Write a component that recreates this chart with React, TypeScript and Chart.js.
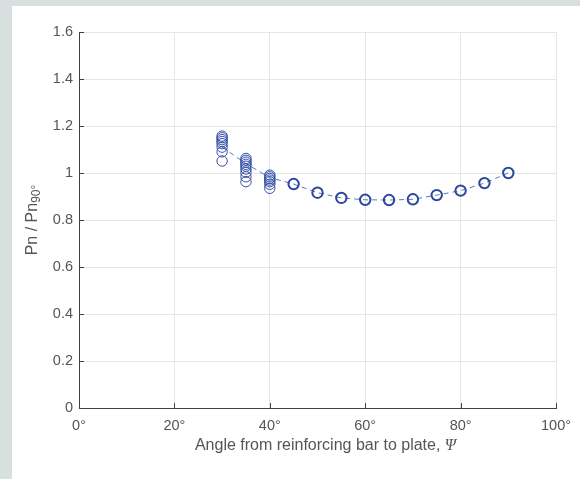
import { useEffect, useRef } from 'react';
import { Chart, registerables } from 'chart.js';

Chart.register(...registerables);

// ---- data ----
const xTickValues = [0, 20, 40, 60, 80, 100];
const yTickValues = [0, 0.2, 0.4, 0.6, 0.8, 1, 1.2, 1.4, 1.6];

const cluster30 = [1.157, 1.150, 1.142, 1.134, 1.125, 1.11, 1.09, 1.051];
const cluster35 = [1.062, 1.054, 1.046, 1.037, 1.029, 1.017, 1.003, 0.984, 0.963];
const cluster40 = [0.991, 0.984, 0.977, 0.970, 0.963, 0.952, 0.935];

const singleAngles = [45, 50, 55, 60, 65, 70, 75, 80, 85, 90];
const singleValues = [0.953, 0.916, 0.894, 0.886, 0.885, 0.888, 0.906, 0.925, 0.957, 1.0];

const trendAngles = [30, 35, 40, 45, 50, 55, 60, 65, 70, 75, 80, 85, 90];
const trendValues = [1.11, 1.04, 0.98, 0.953, 0.916, 0.894, 0.886, 0.885, 0.888, 0.906, 0.925, 0.957, 1.0];

const xTitleMain = 'Angle from reinforcing bar to plate, ';
const xTitleSymbol = 'Ψ';
const yTitleMain = 'Pn / Pn';
const yTitleSub = '90°';

const TEXT = '#555555';
const AXIS = '#404040';
const GRID = '#e6e6e6';
const FONT = '"Liberation Sans", Arial, sans-serif';

const decorPlugin = {
  id: 'decor',
  afterDraw(chart: any) {
    const { ctx, chartArea, scales } = chart;
    const { left, right, bottom } = chartArea;
    const x = scales.x;
    const y = scales.y;
    ctx.save();
    // inward tick marks
    ctx.strokeStyle = AXIS;
    ctx.lineWidth = 1;
    ctx.beginPath();
    xTickValues.forEach((v) => {
      const px = Math.round(x.getPixelForValue(v)) + 0.5;
      ctx.moveTo(px, bottom);
      ctx.lineTo(px, bottom - 5);
    });
    yTickValues.forEach((v) => {
      const py = Math.round(y.getPixelForValue(v)) + 0.5;
      ctx.moveTo(left, py);
      ctx.lineTo(left + 5, py);
    });
    ctx.stroke();

    // x title
    ctx.fillStyle = TEXT;
    ctx.textBaseline = 'alphabetic';
    ctx.textAlign = 'left';
    const mainFont = `16px ${FONT}`;
    const symFont = `italic 16px "Liberation Serif", serif`;
    ctx.font = mainFont;
    const w1 = ctx.measureText(xTitleMain).width;
    ctx.font = symFont;
    const w2 = ctx.measureText(xTitleSymbol).width;
    const cx = (left + right) / 2 + 8;
    const sx = cx - (w1 + w2) / 2;
    const by = bottom + 42;
    ctx.font = mainFont;
    ctx.fillText(xTitleMain, sx, by);
    ctx.font = symFont;
    ctx.fillText(xTitleSymbol, sx + w1, by);

    // y title (rotated)
    ctx.font = mainFont;
    const m1 = ctx.measureText(yTitleMain).width;
    const subFont = `12px ${FONT}`;
    ctx.font = subFont;
    const m2 = ctx.measureText(yTitleSub).width;
    const cy = 220 - 6;
    ctx.translate(24.5, cy);
    ctx.rotate(-Math.PI / 2);
    const st = -(m1 + m2) / 2;
    ctx.font = mainFont;
    ctx.fillText(yTitleMain, st, 0);
    ctx.font = subFont;
    ctx.fillText(yTitleSub, st + m1, 3);
    ctx.restore();
  },
};

export default function App() {
  const canvasRef = useRef<HTMLCanvasElement | null>(null);

  useEffect(() => {
    const canvas = canvasRef.current;
    if (!canvas) return;

    const clusterPoints = [
      ...cluster30.map((v) => ({ x: 30, y: v })),
      ...cluster35.map((v) => ({ x: 35, y: v })),
      ...cluster40.map((v) => ({ x: 40, y: v })),
    ];
    const singlePoints = singleAngles.map((a, i) => ({ x: a, y: singleValues[i] }));
    const trendPoints = trendAngles.map((a, i) => ({ x: a, y: trendValues[i] }));

    const chart = new Chart(canvas, {
      type: 'scatter',
      data: {
        datasets: [
          {
            data: singlePoints,
            pointStyle: 'circle',
            pointRadius: 5.2,
            pointBorderWidth: 2,
            borderColor: '#2c479b',
            pointBorderColor: '#2c479b',
            backgroundColor: 'rgba(0,0,0,0)',
            pointBackgroundColor: 'rgba(0,0,0,0)',
            order: 0,
          },
          {
            data: clusterPoints,
            pointStyle: 'circle',
            pointRadius: 5.2,
            pointBorderWidth: 1,
            borderColor: '#3550a5',
            pointBorderColor: '#3550a5',
            backgroundColor: 'rgba(0,0,0,0)',
            pointBackgroundColor: 'rgba(0,0,0,0)',
            order: 1,
          },
          {
            data: trendPoints,
            showLine: true,
            borderColor: '#5a74c0',
            borderWidth: 1,
            borderDash: [5, 4],
            pointRadius: 0,
            fill: false,
            order: 2,
          },
        ],
      },
      options: {
        animation: false,
        responsive: false,
        devicePixelRatio: 1,
        layout: { padding: { left: 0, top: 26, right: 24, bottom: 0 } },
        plugins: { legend: { display: false }, tooltip: { enabled: false } },
        scales: {
          x: {
            type: 'linear',
            min: 0,
            max: 100,
            afterFit: (s: any) => { s.height = 71; },
            afterBuildTicks: (s: any) => { s.ticks = xTickValues.map((v) => ({ value: v })); },
            ticks: {
              stepSize: 20,
              padding: 9,
              color: TEXT,
              font: { family: FONT, size: 14.5 },
              callback: (v: any) => `${v}°`,
            },
            grid: { color: GRID, lineWidth: 1, drawTicks: false },
            border: { display: true, color: AXIS, width: 1 },
          },
          y: {
            type: 'linear',
            min: 0,
            max: 1.6,
            afterFit: (s: any) => { s.width = 67; },
            afterBuildTicks: (s: any) => { s.ticks = yTickValues.map((v) => ({ value: v })); },
            ticks: {
              stepSize: 0.2,
              padding: 6,
              color: TEXT,
              font: { family: FONT, size: 14.5 },
              callback: (v: any) => String(Math.round(Number(v) * 10) / 10),
            },
            grid: { color: GRID, lineWidth: 1, drawTicks: false },
            border: { display: true, color: AXIS, width: 1 },
          },
        },
      },
      plugins: [decorPlugin],
    } as any);

    return () => chart.destroy();
  }, []);

  return (
    <div style={{ position: 'fixed', left: 0, top: 0, width: 580, height: 479, background: '#d7e0df', overflow: 'hidden' }}>
      <div style={{ position: 'absolute', left: 12, top: 6, width: 568, height: 473, background: '#ffffff' }}>
        <canvas ref={canvasRef} width={568} height={473} style={{ display: 'block', width: 568, height: 473 }} />
      </div>
    </div>
  );
}
